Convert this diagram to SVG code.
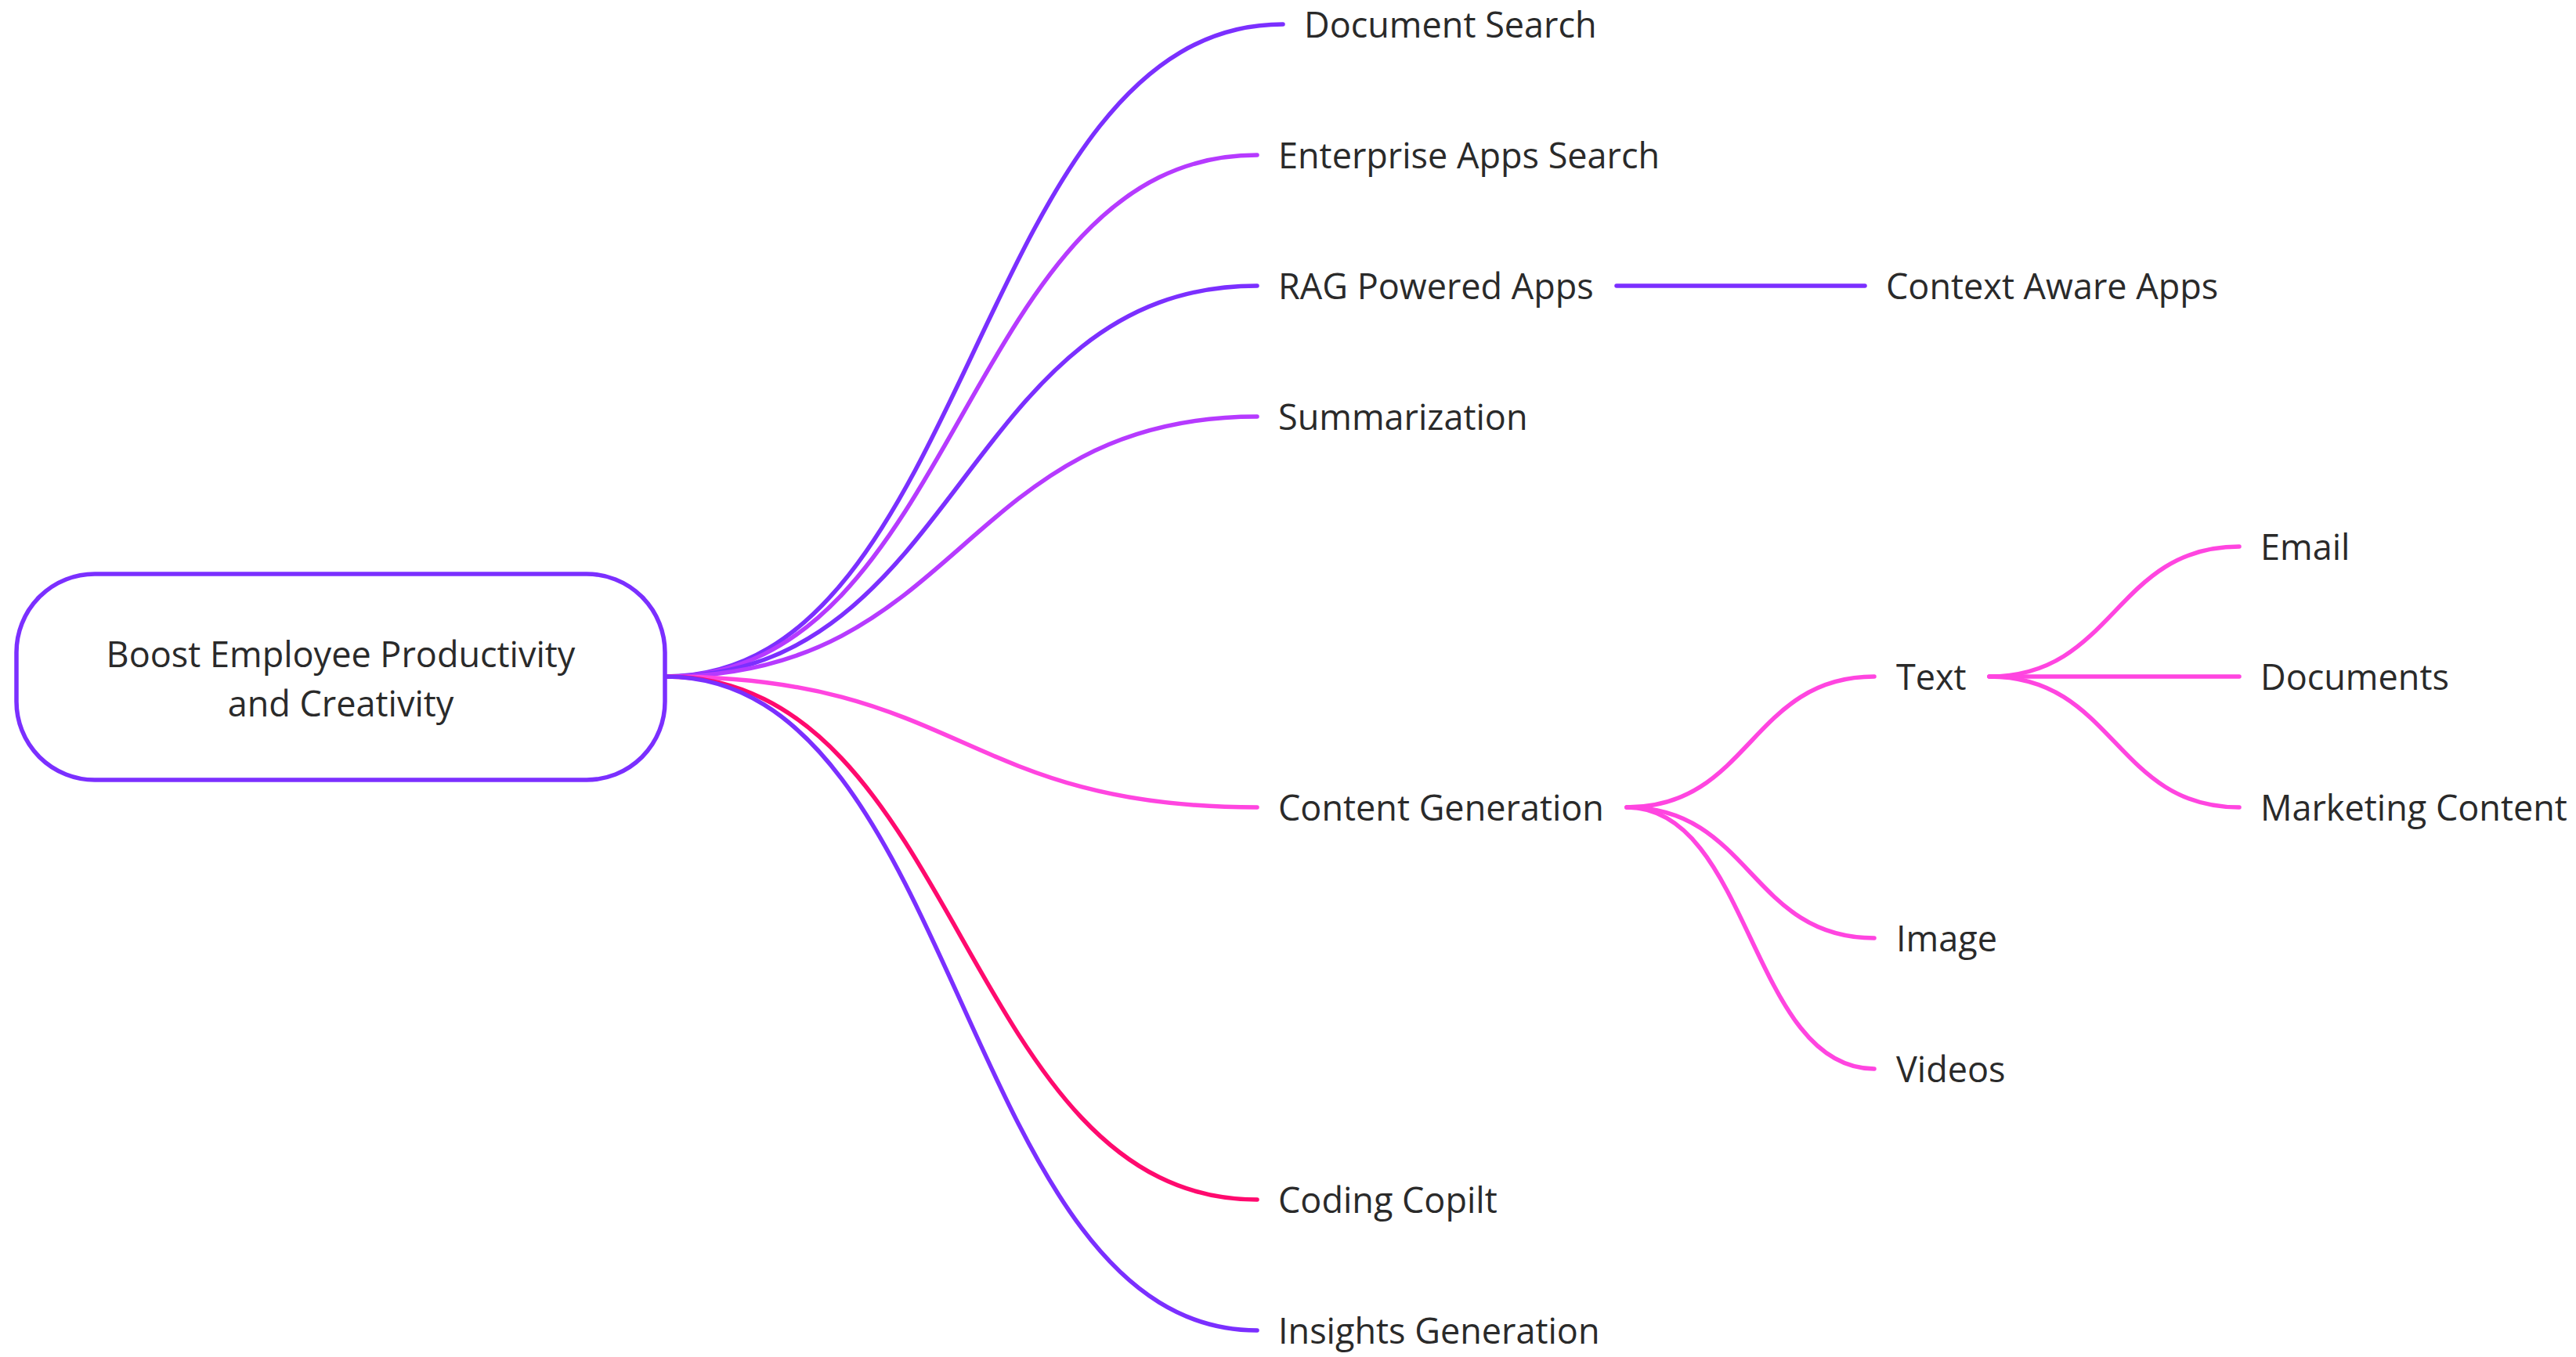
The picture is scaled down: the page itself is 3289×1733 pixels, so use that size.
<svg xmlns="http://www.w3.org/2000/svg" width="3289" height="1733" viewBox="0 0 3289 1733">
<style>
text{font-family:"Open Sans","Noto Sans","Liberation Sans",sans-serif;font-size:45px;fill:#2a2a2a}
.c{fill:none;stroke-width:5.5;stroke-linecap:round}
.v{stroke:#7b2fff}
.l{stroke:#b63aff}
.p{stroke:#ff45e0}
.r{stroke:#ff0a6e}
</style>
<rect width="3289" height="1733" fill="#ffffff"/>
<g id="connectors">
<path class="c v" d="M850 864 C1244 864 1244 31 1638 31"/>
<path class="c l" d="M850 864 C1228 864 1228 198 1605 198"/>
<path class="c v" d="M850 864 C1228 864 1228 365 1605 365"/>
<path class="c l" d="M850 864 C1228 864 1228 532 1605 532"/>
<path class="c p" d="M850 864 C1228 864 1228 1031 1605 1031"/>
<path class="c r" d="M850 864 C1228 864 1228 1532 1605 1532"/>
<path class="c v" d="M850 864 C1228 864 1228 1699 1605 1699"/>
<path class="c v" d="M2064 365 L2381 365"/>
<path class="c p" d="M2077 1031 C2235 1031 2235 864 2393 864"/>
<path class="c p" d="M2077 1031 C2235 1031 2235 1198 2393 1198"/>
<path class="c p" d="M2077 1031 C2235 1031 2235 1365 2393 1365"/>
<path class="c p" d="M2540 864 C2700 864 2700 698 2859 698"/>
<path class="c p" d="M2540 864 L2859 864"/>
<path class="c p" d="M2540 864 C2700 864 2700 1031 2859 1031"/>
</g>
<g id="root">
<rect x="21" y="733" width="828" height="263" rx="100" ry="100" fill="#ffffff" stroke="#7b2fff" stroke-width="5.5"/>
<text x="435" y="852" text-anchor="middle">Boost Employee Productivity</text>
<text x="435" y="915" text-anchor="middle">and Creativity</text>
</g>
<g id="n-document-search"><text x="1665" y="48">Document Search</text></g>
<g id="n-enterprise-apps-search"><text x="1632" y="215">Enterprise Apps Search</text></g>
<g id="n-rag-powered-apps"><text x="1632" y="382">RAG Powered Apps</text></g>
<g id="n-context-aware-apps"><text x="2408" y="382">Context Aware Apps</text></g>
<g id="n-summarization"><text x="1632" y="549">Summarization</text></g>
<g id="n-content-generation"><text x="1632" y="1048">Content Generation</text></g>
<g id="n-text"><text x="2421" y="881">Text</text></g>
<g id="n-email"><text x="2886" y="715">Email</text></g>
<g id="n-documents"><text x="2886" y="881">Documents</text></g>
<g id="n-marketing-content"><text x="2886" y="1048">Marketing Content</text></g>
<g id="n-image"><text x="2421" y="1215">Image</text></g>
<g id="n-videos"><text x="2421" y="1382">Videos</text></g>
<g id="n-coding-copilt"><text x="1632" y="1549">Coding Copilt</text></g>
<g id="n-insights-generation"><text x="1632" y="1716">Insights Generation</text></g>
</svg>
